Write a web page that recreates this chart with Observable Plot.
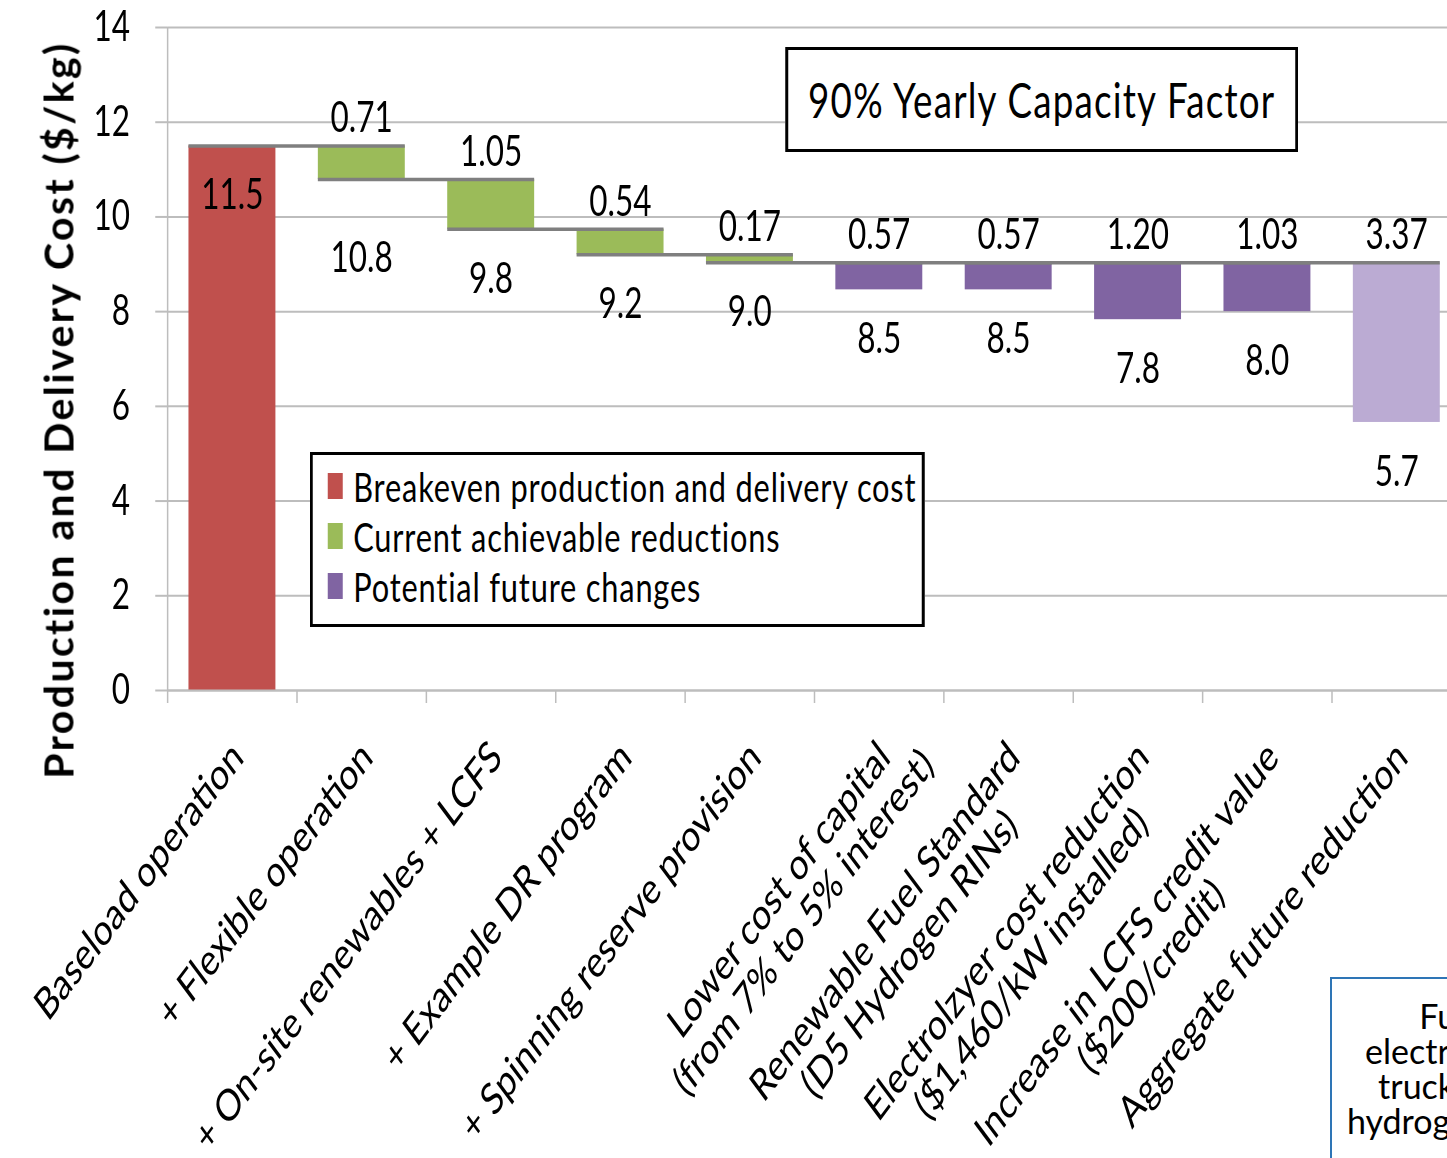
<!DOCTYPE html>
<html><head><meta charset="utf-8">
<script src="https://cdn.jsdelivr.net/npm/d3@7"></script>
<script src="https://cdn.jsdelivr.net/npm/@observablehq/plot@0.6"></script>
<style>
html,body{margin:0;padding:0;background:#fff;overflow:hidden;width:1447px;height:1158px;}
#wrap{position:absolute;left:0;top:0;width:1948px;height:1158px;transform:scale(0.75,1);transform-origin:0 0;font-family:Lato,"Open Sans",sans-serif;color:#000;}
.box{position:absolute;background:#fff;box-sizing:border-box;}
#titlebox{left:1047px;top:47px;width:684px;height:105px;border:3px solid #000;border-left-width:4px;border-right-width:4px;display:flex;align-items:center;justify-content:center;font-size:49px;letter-spacing:1.6px;line-height:1.2;white-space:nowrap;}
#legend{left:413px;top:452px;width:820px;height:175px;border:3px solid #000;border-left-width:4px;border-right-width:4px;padding:6px 0 0 20px;font-size:41px;}
#legend .row{display:flex;align-items:center;height:50px;white-space:nowrap;}
#legend .sw{width:20px;height:26px;margin-right:14px;flex:none;}
#legend .tx{letter-spacing:1.1px;}
#ytitle{position:absolute;left:58px;top:410px;transform:translate(-50%,-50%) rotate(-90deg);font-family:Lato,"Open Sans",sans-serif;font-weight:bold;font-size:41px;letter-spacing:2.4px;white-space:nowrap;color:#000;line-height:1;}
#notebox{position:absolute;left:1330px;top:977px;width:300px;height:260px;box-sizing:border-box;background:#fff;border:2px solid #2e75b6;font-family:Lato,"Open Sans",sans-serif;font-size:34px;line-height:35px;text-align:center;padding-top:19px;white-space:nowrap;}
</style></head><body><div id="wrap"></div>
<script>
// ---- data ----
const categories = [
  "Baseload operation",
  "+ Flexible operation",
  "+ On-site renewables + LCFS",
  "+ Example DR program",
  "+ Spinning reserve provision",
  "Lower cost of capital\n(from 7% to 5% interest)",
  "Renewable Fuel Standard\n(D5 Hydrogen RINs)",
  "Electrolzyer cost reduction\n($1,460/kW installed)",
  "Increase in LCFS credit value\n($200/credit)",
  "Aggregate future reduction"
];
const kinds = ["base","current","current","current","current","future","future","future","future","aggregate"];
const changes = [11.5, 0.71, 1.05, 0.54, 0.17, 0.57, 0.57, 1.20, 1.03, 3.37];
const changeLabels = ["", "0.71", "1.05", "0.54", "0.17", "0.57", "0.57", "1.20", "1.03", "3.37"];
const resultLabels = ["11.5", "10.8", "9.8", "9.2", "9.0", "8.5", "8.5", "7.8", "8.0", "5.7"];
const yTicks = [0, 2, 4, 6, 8, 10, 12, 14];
const yTitle = "Production and Delivery Cost ($/kg)";
const boxTitle = "90% Yearly Capacity Factor";
const legendLabels = ["Breakeven production and delivery cost", "Current achievable reductions", "Potential future changes"];
const kindColors = {base: "#c0504d", current: "#9bbb59", future: "#8064a2", aggregate: "#bbabd3"};
const legendKinds = ["base", "current", "future"];
const noteLines = ["Fuel cell", "electrolysis and", "truck delivery", "hydrogen stations"];

// ---- waterfall computation ----
let level = 0, afterCurrent = 0;
const rows = categories.map((c, i) => {
  const k = kinds[i];
  let start, end;
  if (k === "base") { start = 0; end = changes[i]; level = end; }
  else if (k === "current") { start = level; end = level - changes[i]; level = end; afterCurrent = end; }
  else { start = afterCurrent; end = afterCurrent - changes[i]; }
  return {i, cat: c, kind: k, start, end, color: kindColors[k],
          changeLabel: changeLabels[i], resultLabel: resultLabels[i]};
});
const hw = 0.336;
const connectors = rows.filter(r => r.i > 0).map(r => ({y: r.start, x1: r.i - 1 - hw, x2: r.i + hw}));
const boundaries = d3.range(categories.length + 1).map(i => i - 0.5);

const chart = Plot.plot({
  width: 1948, height: 1158,
  marginLeft: 223, marginRight: 0, marginTop: 27, marginBottom: 468,
  style: {fontFamily: "Lato, 'Open Sans', sans-serif", fontSize: "42px", color: "#000", background: "transparent", overflow: "visible"},
  x: {type: "linear", domain: [-0.5, categories.length - 0.5], range: [223, 1948]},
  y: {domain: [0, 14], range: [690, 27]},
  color: {type: "identity"},
  marks: [
    Plot.gridY(yTicks, {stroke: "#bdbdbd", strokeOpacity: 1, strokeWidth: 2}),
    Plot.axisY({ticks: yTicks, tickSize: 16, tickPadding: 34, fontSize: 42, label: null, stroke: "#bdbdbd", strokeWidth: 2, strokeOpacity: 1}),
    Plot.axisX({ticks: boundaries, tickSize: 13, tickFormat: () => "", label: null, stroke: "#bdbdbd", strokeWidth: 2, strokeOpacity: 1}),
    Plot.ruleX([-0.5], {y1: 0, y2: 14, stroke: "#bdbdbd", strokeWidth: 2}),
    Plot.rectY(rows, {x1: d => d.i - hw, x2: d => d.i + hw, y1: "start", y2: "end", fill: "color"}),
    Plot.ruleY(connectors, {y: "y", x1: "x1", x2: "x2", stroke: "#7f7f7f", strokeWidth: 3.5}),
    Plot.text(rows.filter(r => r.changeLabel), {x: "i", y: "start", text: "changeLabel", dy: -27, fontSize: 42, lineAnchor: "middle"}),
    Plot.text(rows.filter(r => r.i !== 1), {x: "i", y: "end", text: "resultLabel", dy: 50, fontSize: 42, lineAnchor: "middle"}),
    Plot.text(rows.filter(r => r.i === 1), {x: "i", y: "end", text: "resultLabel", dy: 79, fontSize: 42, lineAnchor: "middle"}),
    Plot.ruleY([0], {stroke: "#bdbdbd", strokeWidth: 2}),
    Plot.text(categories, {x: (d, i) => i, y: 0, text: d => d, rotate: -45, textAnchor: "end", lineAnchor: "top", dx: -6, dy: 46, fontSize: 44, lineHeight: 1.05})
  ]
});
const wrap = document.getElementById("wrap");
wrap.appendChild(chart);

// center the lines of multi-line category labels on their first line
chart.querySelectorAll("text").forEach(t => {
  const sp = t.querySelectorAll("tspan");
  if (sp.length > 1) {
    const L0 = sp[0].getComputedTextLength();
    sp.forEach((s, k) => { if (k > 0) s.setAttribute("x", ((s.getComputedTextLength() - L0) / 2).toFixed(1)); });
  }
});

// title box
const tb = document.createElement("div");
tb.className = "box"; tb.id = "titlebox"; tb.textContent = boxTitle;
wrap.appendChild(tb);
// legend
const lg = document.createElement("div");
lg.className = "box"; lg.id = "legend";
legendLabels.forEach((lab, k) => {
  const r = document.createElement("div"); r.className = "row";
  const sw = document.createElement("span"); sw.className = "sw"; sw.style.background = kindColors[legendKinds[k]];
  const tx = document.createElement("span"); tx.className = "tx"; tx.textContent = lab;
  r.appendChild(sw); r.appendChild(tx); lg.appendChild(r);
});
wrap.appendChild(lg);
// y-axis title (not squeezed)
const yt = document.createElement("div");
yt.id = "ytitle"; yt.textContent = yTitle;
document.body.appendChild(yt);
// partially visible note box (outside the squeezed layer)
const nb = document.createElement("div");
nb.id = "notebox";
noteLines.forEach(l => { const d = document.createElement("div"); d.textContent = l; nb.appendChild(d); });
document.body.appendChild(nb);
</script>
</body></html>
